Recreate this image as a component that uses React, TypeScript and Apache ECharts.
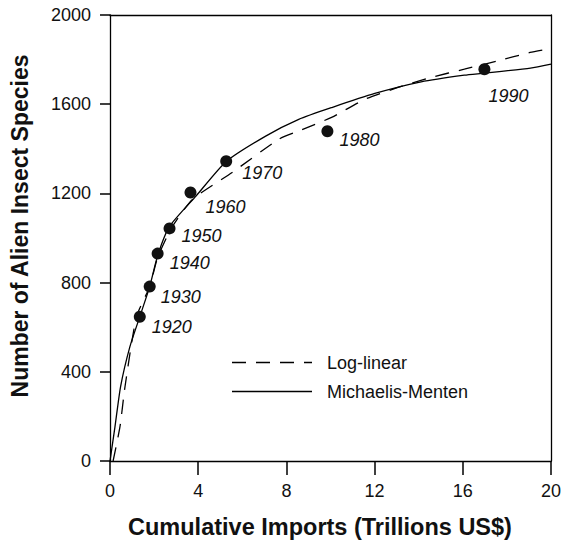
import React, { useEffect, useRef } from "react";
import * as echarts from "echarts";

const years = ["1920", "1930", "1940", "1950", "1960", "1970", "1980", "1990"];
const importsX = [1.35, 1.8, 2.16, 2.7, 3.65, 5.27, 9.86, 16.98];
const speciesY = [647, 782, 930, 1043, 1204, 1344, 1479, 1757];

const mmX = [0, 0.225, 0.48, 0.9, 1.35, 1.8, 2.16, 2.7, 3.9, 5.26, 7.06, 8.56, 10.06, 12.01, 14.11, 16.07, 16.97, 19.07, 20];
const mmY = [0, 153, 334, 512, 647, 782, 921, 1052, 1188, 1342, 1457, 1532, 1585, 1648, 1700, 1730, 1739, 1762, 1780];

const llX = [0.14, 0.45, 0.68, 1.2, 1.8, 2.16, 2.8, 3.74, 5.54, 7.66, 8.56, 10.05, 11.56, 13.06, 14.55, 16.07, 17.57, 19.05, 20];
const llY = [0, 153, 333, 647, 782, 912, 1047, 1173, 1294, 1443, 1480, 1541, 1622, 1675, 1720, 1757, 1794, 1832, 1850];

const xTicks = [0, 4, 8, 12, 16, 20];
const yTicks = [0, 400, 800, 1200, 1600, 2000];

const seriesNames = ["Log-linear", "Michaelis-Menten"];
const xTitle = "Cumulative Imports (Trillions US$)";
const yTitle = "Number of Alien Insect Species";

// label placement (style): offset of label's left/centre from the marker centre
const labelOffsets = [[12, 10], [11, 10], [12, 9], [12, 8], [15, 14], [16, 12], [12, 9], [4, 27]];

const FONT = "Liberation Sans, Arial, Helvetica, sans-serif";
const DASH = [14, 10];

export default function App() {
  const ref = useRef<HTMLDivElement>(null);
  useEffect(() => {
    if (!ref.current) return;
    const chart = echarts.init(ref.current, null, { renderer: "svg" });
    const sym = 12;
    const hidden = { show: false };
    chart.setOption({
      animation: false,
      backgroundColor: "#ffffff",
      grid: { left: 110, right: 10, top: 15, bottom: 81, show: false },
      graphic: [
        {
          type: "line",
          shape: { x1: 232, y1: 362.5, x2: 312, y2: 362.5 },
          style: { stroke: "#000", lineWidth: 1.3, lineDash: DASH },
        },
        {
          type: "text",
          x: 327,
          y: 362.5,
          style: { text: seriesNames[0], fontFamily: FONT, fontSize: 18, fill: "#111", verticalAlign: "middle" },
        },
        {
          type: "line",
          shape: { x1: 232, y1: 391.5, x2: 312, y2: 391.5 },
          style: { stroke: "#000", lineWidth: 1.3 },
        },
        {
          type: "text",
          x: 327,
          y: 391.5,
          style: { text: seriesNames[1], fontFamily: FONT, fontSize: 18, fill: "#111", verticalAlign: "middle" },
        },
        {
          type: "text",
          x: 320,
          y: 527,
          style: {
            text: xTitle,
            fontFamily: FONT,
            fontSize: 23.5,
            fontWeight: "bold",
            fill: "#111",
            align: "center",
            verticalAlign: "middle",
          },
        },
        {
          type: "text",
          x: 20,
          y: 226,
          rotation: Math.PI / 2,
          style: {
            text: yTitle,
            fontFamily: FONT,
            fontSize: 23,
            fontWeight: "bold",
            fill: "#111",
            align: "center",
            verticalAlign: "middle",
          },
        },
      ],
      xAxis: [
        {
          type: "value",
          position: "bottom",
          min: xTicks[0],
          max: xTicks[xTicks.length - 1],
          interval: 4,
          axisLine: { show: true, onZero: false, lineStyle: { color: "#000", width: 1.3 } },
          axisTick: { show: true, length: 14, lineStyle: { color: "#000", width: 1.5 } },
          axisLabel: { margin: 21, fontFamily: FONT, fontSize: 18, color: "#111", formatter: (v: number) => String(v) },
          splitLine: hidden,
        },
        {
          type: "value",
          position: "top",
          min: xTicks[0],
          max: xTicks[xTicks.length - 1],
          interval: 4,
          axisLine: { show: true, onZero: false, lineStyle: { color: "#000", width: 1.3 } },
          axisTick: hidden,
          axisLabel: hidden,
          splitLine: hidden,
        },
      ],
      yAxis: [
        {
          type: "value",
          position: "left",
          min: yTicks[0],
          max: yTicks[yTicks.length - 1],
          interval: 400,
          axisLine: { show: true, onZero: false, lineStyle: { color: "#000", width: 1.3 } },
          axisTick: { show: true, length: 10, lineStyle: { color: "#000", width: 1.5 } },
          axisLabel: { margin: 19, fontFamily: FONT, fontSize: 18, color: "#111", formatter: (v: number) => String(v) },
          splitLine: hidden,
        },
        {
          type: "value",
          position: "right",
          min: yTicks[0],
          max: yTicks[yTicks.length - 1],
          interval: 400,
          axisLine: { show: true, onZero: false, lineStyle: { color: "#000", width: 1.3 } },
          axisTick: hidden,
          axisLabel: hidden,
          splitLine: hidden,
        },
      ],
      series: [
        {
          name: seriesNames[0],
          type: "line",
          data: llX.map((x, i) => [x, llY[i]]),
          symbol: "none",
          showSymbol: false,
          smooth: 0.2,
          lineStyle: { color: "#000", width: 1.3, type: DASH },
          itemStyle: { color: "#000" },
        },
        {
          name: seriesNames[1],
          type: "line",
          data: mmX.map((x, i) => [x, mmY[i]]),
          symbol: "none",
          showSymbol: false,
          smooth: 0.2,
          lineStyle: { color: "#000", width: 1.3, type: "solid" },
          itemStyle: { color: "#000" },
        },
        {
          name: "Observed",
          type: "scatter",
          symbol: "circle",
          symbolSize: sym,
          itemStyle: { color: "#111", opacity: 1 },
          z: 5,
          data: importsX.map((x, i) => ({
            value: [x, speciesY[i]],
            label: {
              show: true,
              position: "right",
              distance: 0,
              offset: [labelOffsets[i][0] - sym / 2, labelOffsets[i][1]],
              formatter: years[i],
              fontFamily: FONT,
              fontSize: 18,
              fontStyle: "italic",
              color: "#111",
              opacity: 1,
            },
          })),
        },
      ],
    });
    return () => chart.dispose();
  }, []);
  return (
    <div
      ref={ref}
      style={{ position: "fixed", left: 0, top: 0, width: 564, height: 542, background: "#fff" }}
    />
  );
}
